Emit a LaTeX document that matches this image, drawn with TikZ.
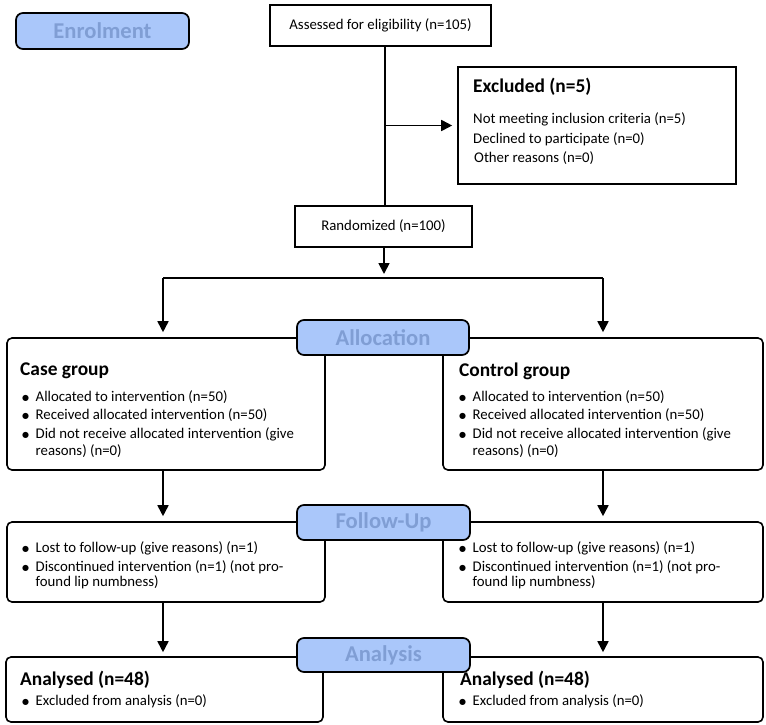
\documentclass[tikz,border=0pt]{standalone}
\usepackage{fontspec}
\setmainfont{Carlito}
\newfontfamily\dejavu{DejaVu Sans}
\usetikzlibrary{arrows.meta,calc}
\definecolor{labfill}{RGB}{170,199,250}
\definecolor{labtext}{RGB}{128,158,212}
\newcommand{\bul}{\makebox[13.5pt][l]{\raisebox{1pt}{\dejavu\fontsize{8}{8}\selectfont ●}}}
\begin{document}
\begin{tikzpicture}[x=1pt,y=-1pt,
 line/.style={line width=1.7pt},
 arr/.style={line width=1.7pt,-{Triangle[width=11pt,length=11pt]}},
 sqbox/.style={draw,line width=1.6pt,inner sep=0pt,font=\fontsize{14.8}{17}\selectfont},
 rbox/.style={draw,line width=1.6pt,rounded corners=5pt,inner sep=0pt},
 lab/.style={draw,line width=1.7pt,rounded corners=7pt,fill=labfill,text=labtext,font=\fontsize{22.6}{26}\selectfont\bfseries,inner sep=0pt},
 body/.style={anchor=west,inner sep=0pt,font=\fontsize{14.8}{17}\selectfont},
 head/.style={anchor=west,inner sep=0pt,font=\fontsize{19.4}{23}\selectfont\bfseries}]
\useasboundingbox (0,0) rectangle (766,724);

% square boxes
\node[sqbox,minimum width=221pt,minimum height=41pt] (assess) at (380.5,25.5) {Assessed for eligibility (n=105)};
\node[sqbox,minimum width=278pt,minimum height=117pt] (excl) at (597,125.5) {};
\node[sqbox,minimum width=177pt,minimum height=41pt] (rand) at (383.5,226.5) {Randomized (n=100)};

% rounded boxes
\node[rbox,minimum width=318pt,minimum height=132pt] (case) at (166,404) {};
\node[rbox,minimum width=320pt,minimum height=132pt] (ctrl) at (603,404) {};
\node[rbox,minimum width=318pt,minimum height=80pt] (fuL) at (166,562) {};
\node[rbox,minimum width=320pt,minimum height=80pt] (fuR) at (603,562) {};
\node[rbox,minimum width=317pt,minimum height=65pt] (anL) at (164.5,689.5) {};
\node[rbox,minimum width=320pt,minimum height=65pt] (anR) at (603,689.5) {};

% connectors
\coordinate (spine) at (385,0);
\coordinate (split) at (384,278);
\coordinate (cl) at (163,278);
\coordinate (cr) at (603,278);
\draw[line] (spine |- assess.south) -- (spine |- rand.north);
\draw[arr,shorten >=5pt] (spine |- excl.west) -- (excl.west);
\draw[arr,shorten >=4pt] (split |- rand.south) -- (split);
\draw[line] (cl) -- (cr);
\draw[arr,shorten >=5pt] (cl) -- (cl |- case.north);
\draw[arr,shorten >=5pt] (cr) -- (cr |- ctrl.north);
\draw[arr,shorten >=5pt] (cl |- case.south) -- (cl |- fuL.north);
\draw[arr,shorten >=5pt] (cr |- ctrl.south) -- (cr |- fuR.north);
\draw[arr,shorten >=4pt] (cl |- fuL.south) -- (cl |- anL.north);
\draw[arr,shorten >=4pt] (cr |- fuR.south) -- (cr |- anR.north);

% stage labels
\node[lab,minimum width=173pt,minimum height=36pt] (enrol) at (102.5,31) {Enrolment};
\node[lab,minimum width=172pt,minimum height=35pt] (alloc) at (383,337.5) {Allocation};
\node[lab,minimum width=173pt,minimum height=35pt] (fulab) at (383.5,522.5) {Follow-Up};
\node[lab,minimum width=173pt,minimum height=34pt] (anlab) at (383.5,655) {Analysis};

% excluded text
\node[head] (exh) at (473,87) {Excluded (n=5)};
\node[body] (ex1) at (473,119) {Not meeting inclusion criteria (n=5)};
\node[body] (ex2) at (473,139) {Declined to participate (n=0)};
\node[body] (ex3) at (474,158) {Other reasons (n=0)};

% case group
\node[head] (cah) at (20,371) {Case group};
\node[body] (ca1) at (22,397) {\bul Allocated to intervention (n=50)};
\node[body] (ca2) at (22,415) {\bul Received allocated intervention (n=50)};
\node[body] (ca3) at (22,434) {\bul Did not receive allocated intervention (give};
\node[body] (ca4) at (35.5,451) {reasons) (n=0)};

% control group
\node[head] (coh) at (459,371) {Control group};
\node[body] (co1) at (459,397) {\bul Allocated to intervention (n=50)};
\node[body] (co2) at (459,415) {\bul Received allocated intervention (n=50)};
\node[body] (co3) at (459,434) {\bul Did not receive allocated intervention (give};
\node[body] (co4) at (472.5,451) {reasons) (n=0)};

% follow-up
\node[body] (fl1) at (22,548) {\bul Lost to follow-up (give reasons) (n=1)};
\node[body] (fl2) at (22,567) {\bul Discontinued intervention (n=1) (not pro-};
\node[body] (fl3) at (35.5,582) {found lip numbness)};
\node[body] (fr1) at (459,548) {\bul Lost to follow-up (give reasons) (n=1)};
\node[body] (fr2) at (459,567) {\bul Discontinued intervention (n=1) (not pro-};
\node[body] (fr3) at (472.5,582) {found lip numbness)};

% analysis
\node[head] (alh) at (20,680) {Analysed (n=48)};
\node[body] (al1) at (22,701) {\bul Excluded from analysis (n=0)};
\node[head] (arh) at (460,680) {Analysed (n=48)};
\node[body] (ar1) at (459,701) {\bul Excluded from analysis (n=0)};
\end{tikzpicture}
\end{document}
